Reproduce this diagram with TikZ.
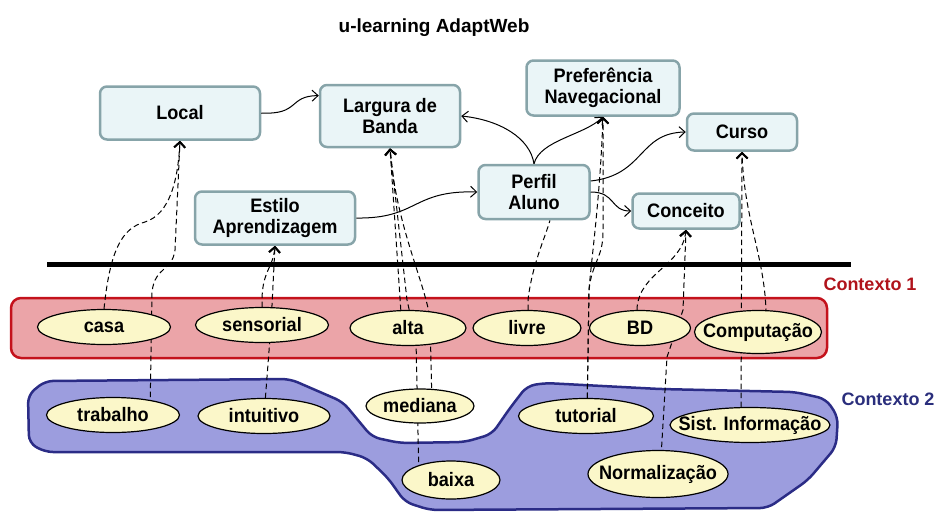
\documentclass[tikz,border=0pt]{standalone}
\usepackage{fontspec}
\setmainfont{Liberation Sans}
\newfontfamily\narrowsans{Liberation Sans}[FakeStretch=0.93]
\usepackage{tikz}
\usetikzlibrary{shapes.geometric,arrows.meta}
\usepackage{xcolor}
\definecolor{boxfill}{HTML}{EAF5F7}
\definecolor{boxline}{HTML}{87A4A9}
\definecolor{valfill}{HTML}{FBF7C9}
\definecolor{ctxredfill}{HTML}{EBA4A8}
\definecolor{ctxred}{HTML}{C4121C}
\definecolor{ctxbluefill}{HTML}{9C9DDE}
\definecolor{ctxblue}{HTML}{2B2C86}
\definecolor{labelred}{HTML}{B0131B}
\definecolor{labelblue}{HTML}{2A2E7C}
\pgfdeclarelayer{regions}
\pgfdeclarelayer{links}
\pgfsetlayers{regions,links,main}

\begin{document}
\begin{tikzpicture}[x=1pt,y=-1pt,
		entity/.style={draw=boxline,fill=boxfill,line width=2.5pt,rounded corners=7pt,align=center,
			font=\narrowsans\bfseries\fontsize{19.5}{21}\selectfont,inner sep=0pt},
		valor/.style={ellipse,draw,fill=valfill,line width=1.2pt,inner xsep=-25pt,inner ysep=0pt,
			font=\narrowsans\bfseries\fontsize{19.5}{21}\selectfont},
		dep/.style={dash pattern=on 5.5pt off 3.5pt,line width=1pt},
		deparrow/.style={dep,-{Straight Barb[length=5.5pt,width=11pt,line width=1.8pt]}},
		flow/.style={line width=1pt,-{Straight Barb[length=6pt,width=11pt]}}]
		
		\useasboundingbox (0,0) rectangle (937,512);
		
		\node[font=\bfseries\fontsize{19}{21}\selectfont] (titulo) at (434,28) {u-learning AdaptWeb};
		
		% conceitos do modelo
		\node[entity,minimum width=160,minimum height=53] (local) at (180,113) {Local};
		\node[entity,minimum width=140,minimum height=62] (largura) at (390,116) {Largura de\\Banda};
		\node[entity,minimum width=153,minimum height=55] (preferencia) at (603,88) {Preferência\\Navegacional};
		\node[entity,minimum width=110,minimum height=37] (curso) at (742,132) {Curso};
		\node[entity,minimum width=111,minimum height=54] (perfil) at (534,192) {Perfil\\Aluno};
		\node[entity,minimum width=107,minimum height=35] (conceito) at (686,211) {Conceito};
		\node[entity,minimum width=160,minimum height=53] (estilo) at (275,218) {Estilo\\Aprendizagem};
		
		\draw[flow] (local.east) .. controls (300,115) and (288,96) .. (largura.164);
		\draw[flow] (estilo.east) .. controls (418,219) and (412,190) .. (perfil.west);
		\draw[flow] (perfil.north) .. controls (530,138) and (500,120) .. (largura.east);
		\draw[flow] (perfil.north) .. controls (540,140) and (585,135) .. (preferencia.south);
		\draw[flow] ([yshift=11pt]perfil.east) .. controls (645,175) and (638,133) .. (curso.west);
		\draw[flow] (perfil.east) .. controls (616,192) and (610,211) .. (conceito.west);
		
		% valores de contexto
		\foreach \name/\x/\y/\w/\h/\txt in {casa/104/327/133/35/casa, sensorial/262/325/133/35/sensorial,
			alta/408/328/116/35/alta, livre/527/328/108/35/livre, bd/640/328/101/35/BD,
			computacao/758/332/127/43/Computação, trabalho/113/415/133/35/trabalho,
			intuitivo/264/416/132/35/intuitivo, mediana/420/406/108/34/mediana,
			baixa/451/480/98/38/baixa, tutorial/586/416/135/35/tutorial,
			sist/750/425/160/35/Sist. Informação, normalizacao/658/474/140/47/Normalização}
		{
			\node[valor,minimum width=\w,minimum height=\h] (\name) at (\x,\y) {\txt};
		}
		
		\node[font=\bfseries\fontsize{18}{20}\selectfont,text=labelred] (ctx1) at (870,284) {Contexto 1};
		\node[font=\bfseries\fontsize{18}{20}\selectfont,text=labelblue] (ctx2) at (888,399) {Contexto 2};
		
		\begin{pgfonlayer}{regions}
			\draw[ctxred,fill=ctxredfill,line width=2.5pt,rounded corners=10pt] (11,298) rectangle (827,358);
			\draw[ctxblue,fill=ctxbluefill,line width=2.5pt,rounded corners=8pt]
			(45,381) -- (290,379) -- (343,402) -- (372,437) -- (400,443) -- (465,442) -- (492,434)
			-- (510,408) -- (527,386) -- (545,383) -- (660,389) -- (795,392) -- (826,399) -- (838,417)
			-- (836,447) -- (808,480) -- (768,508) -- (430,510) -- (405,502) -- (388,478) -- (367,458)
			-- (345,452) -- (45,452) -- (29,443) -- (28,395) -- cycle;
			\draw[line width=5pt] (47,264) -- (851,264);
		\end{pgfonlayer}
		
		% ligacoes tracejadas
		\begin{pgfonlayer}{links}
			\draw[deparrow] (casa.north) .. controls (110,250) and (122,228) .. (145,222)
			.. controls (170,214) and (178,180) .. (local.south);
			\draw[deparrow] ([xshift=37pt]trabalho.center) -- (152,292) .. controls (155,266) and (172,272) .. (175,250) -- (local.south);
			\draw[deparrow] (sensorial.center) -- (262,298) .. controls (263,270) and (273,268) .. (estilo.south);
			\draw[deparrow] (intuitivo.center) -- ([xshift=9pt]sensorial.center) -- (estilo.south);
			\draw[deparrow] ([xshift=-6pt]alta.center) -- (largura.south);
			\draw[deparrow] ([xshift=-32pt]baixa.center) -- (416,340) -- (407,300) -- (largura.south);
			\draw[deparrow] ([xshift=12pt]mediana.center) -- (430,318) .. controls (424,280) and (396,225) .. (largura.south);
			\draw[dep] ([xshift=1pt]livre.center) -- (528,300) .. controls (532,265) and (545,238) .. ([xshift=16pt]perfil.south);
			\draw[deparrow] ([xshift=1pt]tutorial.center) -- (589,290) .. controls (591,262) and (600,200) .. (preferencia.south);
			\draw[deparrow] ([xshift=1pt]tutorial.center) -- (589,290) .. controls (592,262) and (603,258) .. (603,232) -- (preferencia.south);
			\draw[deparrow] ([xshift=-3pt]bd.center) -- (637,308) .. controls (640,272) and (682,266) .. (conceito.south);
			\draw[deparrow] ([xshift=2pt]normalizacao.center) -- (667,357) -- (683,310) -- (conceito.south);
			\draw[deparrow] ([xshift=-9pt]sist.center) -- (curso.south);
			\draw[deparrow] ([xshift=8pt]computacao.center) -- (766,310) .. controls (764,255) and (744,218) .. (curso.south);
		\end{pgfonlayer}
		
	\end{tikzpicture}
\end{document}
